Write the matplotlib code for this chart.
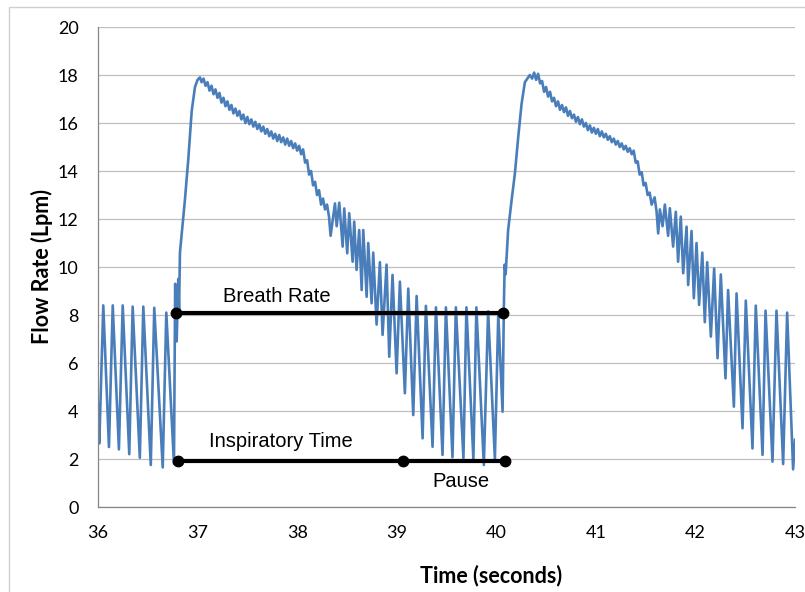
import matplotlib.pyplot as plt
from matplotlib.patches import Rectangle
import numpy as np

# resting oscillation before the first breath
rest1_t = [36.000, 36.013, 36.053, 36.110, 36.148, 36.210, 36.248, 36.314, 36.348,
           36.420, 36.455, 36.530, 36.565, 36.650, 36.686, 36.763]
rest1_flow = [4.3, 2.65, 8.4, 2.5, 8.4, 2.4, 8.4, 2.2, 8.35,
              2.05, 8.35, 1.75, 8.3, 1.65, 8.1, 1.8]

# first breath: rise
rise1_t = [36.775, 36.790, 36.806, 36.814, 36.823, 36.873, 36.907, 36.941, 36.974, 37.000, 37.024]
rise1_flow = [9.3, 6.9, 9.5, 8.2, 10.6, 12.8, 14.5, 16.5, 17.5, 17.8, 17.9]

# first breath: noisy decay
decay1_t = [37.04, 37.06, 37.08, 37.10, 37.12, 37.14, 37.16, 37.18, 37.20, 37.22,
            37.24, 37.26, 37.28, 37.30, 37.32, 37.34, 37.36, 37.38, 37.40, 37.42,
            37.44, 37.46, 37.48, 37.50, 37.52, 37.54, 37.56, 37.58, 37.60, 37.62,
            37.64, 37.66, 37.68, 37.70, 37.72, 37.74, 37.76, 37.78, 37.80, 37.82,
            37.84, 37.86, 37.88, 37.90, 37.92, 37.94, 37.96, 37.98, 38.00, 38.02,
            38.04, 38.06, 38.08, 38.10, 38.12, 38.14, 38.16, 38.18, 38.20, 38.22,
            38.24, 38.26]
decay1_flow = [17.7, 17.85, 17.55, 17.7, 17.35, 17.55, 17.2, 17.4, 17.05, 17.25,
               16.85, 17.05, 16.7, 16.9, 16.55, 16.75, 16.4, 16.6, 16.3, 16.5,
               16.15, 16.35, 16.0, 16.25, 15.95, 16.15, 15.85, 16.05, 15.75, 15.95,
               15.65, 15.85, 15.55, 15.75, 15.45, 15.65, 15.35, 15.55, 15.25, 15.5,
               15.2, 15.4, 15.1, 15.35, 15.05, 15.25, 14.95, 15.15, 14.85, 15.05,
               14.7, 14.9, 14.35, 14.45, 13.85, 14.0, 13.4, 13.55, 13.0, 13.2,
               12.6, 12.85]

# first breath: oscillating tail and pause
osc1_t = [38.28, 38.30, 38.32, 38.336, 38.380, 38.397, 38.423, 38.457, 38.473, 38.503,
          38.523, 38.557, 38.573, 38.597, 38.623, 38.648, 38.664, 38.698, 38.714, 38.748,
          38.764, 38.798, 38.831, 38.858, 38.898, 38.925, 38.958, 38.999, 39.032, 39.082,
          39.116, 39.166, 39.200, 39.260, 39.293, 39.360, 39.394, 39.460, 39.494, 39.560,
          39.594, 39.670, 39.700, 39.770, 39.800, 39.875, 39.918, 39.986, 40.020, 40.063]
osc1_flow = [12.4, 12.6, 12.1, 11.3, 12.65, 11.7, 12.68, 10.85, 12.44, 10.57,
             12.24, 10.22, 11.89, 9.88, 11.54, 9.04, 11.54, 8.76, 11.0, 8.49,
             10.6, 7.6, 10.2, 7.17, 10.1, 6.26, 9.67, 5.57, 9.39, 4.74,
             9.1, 3.83, 8.79, 2.86, 8.38, 2.51, 8.32, 2.17, 8.32, 2.07,
             8.32, 2.03, 8.32, 1.99, 8.32, 1.75, 8.15, 2.0, 8.05, 3.97]

# second breath: rise
rise2_t = [40.076, 40.084, 40.094, 40.119, 40.154, 40.187, 40.220, 40.254, 40.287, 40.337]
rise2_flow = [8.3, 10.1, 9.7, 11.54, 12.79, 13.9, 15.4, 16.8, 17.7, 18.0]

# second breath: noisy decay
decay2_t = [40.36, 40.38, 40.40, 40.42, 40.44, 40.46, 40.48, 40.50, 40.52, 40.54,
            40.56, 40.58, 40.60, 40.62, 40.64, 40.66, 40.68, 40.70, 40.72, 40.74,
            40.76, 40.78, 40.80, 40.82, 40.84, 40.86, 40.88, 40.90, 40.92, 40.94,
            40.96, 40.98, 41.00, 41.02, 41.04, 41.06, 41.08, 41.10, 41.12, 41.14,
            41.16, 41.18, 41.20, 41.22, 41.24, 41.26, 41.28, 41.30, 41.32, 41.34,
            41.36, 41.38, 41.40, 41.42, 41.44, 41.46, 41.48, 41.50, 41.52, 41.54,
            41.56]
decay2_flow = [17.85, 18.1, 17.8, 18.05, 17.65, 17.75, 17.3, 17.5, 17.1, 17.3,
               16.9, 17.05, 16.7, 16.9, 16.55, 16.75, 16.45, 16.65, 16.3, 16.5,
               16.2, 16.35, 16.05, 16.25, 15.95, 16.15, 15.85, 16.0, 15.7, 15.9,
               15.6, 15.8, 15.55, 15.75, 15.45, 15.65, 15.4, 15.55, 15.3, 15.45,
               15.2, 15.35, 15.1, 15.25, 15.0, 15.15, 14.9, 15.05, 14.8, 14.95,
               14.7, 14.85, 14.35, 14.4, 13.85, 13.95, 13.4, 13.5, 13.0, 13.1,
               12.6]

# second breath: oscillating tail
osc2_t = [41.59, 41.61, 41.626, 41.643, 41.670, 41.693, 41.726, 41.743, 41.776, 41.803,
          41.826, 41.853, 41.877, 41.911, 41.927, 41.961, 41.984, 42.011, 42.037, 42.069,
          42.094, 42.118, 42.155, 42.188, 42.222, 42.255, 42.302, 42.328, 42.386, 42.413,
          42.473, 42.506, 42.573, 42.606, 42.674, 42.704, 42.774, 42.814, 42.881, 42.921,
          42.981, 43.0]
osc2_flow = [12.9, 12.3, 11.4, 12.4, 11.7, 12.6, 11.3, 12.45, 10.85, 12.3,
             10.22, 12.1, 9.74, 11.68, 9.25, 11.5, 8.7, 11.0, 8.42, 10.6,
             7.7, 10.2, 7.1, 9.94, 6.2, 9.69, 5.36, 9.04, 4.18, 8.9,
             3.28, 8.6, 2.44, 8.39, 2.17, 8.18, 1.89, 8.18, 1.79, 8.1,
             1.57, 2.8]

# annotation markers
breath_rate_t = [36.783, 40.063]
breath_rate_flow = 8.1
insp_t = [36.806, 39.062, 40.086]
insp_flow = 1.92

time = np.concatenate([rest1_t, rise1_t, decay1_t, osc1_t, rise2_t, decay2_t, osc2_t])
flow = np.concatenate([rest1_flow, rise1_flow, decay1_flow, osc1_flow, rise2_flow, decay2_flow, osc2_flow])

fig = plt.figure(figsize=(8.05, 5.92), dpi=100)
ax = fig.add_axes([98 / 805, 1 - 507 / 592, 697 / 805, 480 / 592])

ax.plot(time, flow, color="#4A7EBB", linewidth=1.9, zorder=2)

ax.plot(breath_rate_t, [breath_rate_flow] * 2, color="black", linewidth=3, marker="o",
        markersize=7.5, zorder=3)
ax.plot(insp_t, [insp_flow] * 3, color="black", linewidth=3, marker="o",
        markersize=7.5, zorder=3)

ax.text(37.80, 8.75, "Breath Rate", fontsize=14.5, family="Liberation Sans",
        ha="center", va="center")
ax.text(37.84, 2.72, "Inspiratory Time", fontsize=14.5, family="Liberation Sans",
        ha="center", va="center")
ax.text(39.64, 1.08, "Pause", fontsize=14.5, family="Liberation Sans",
        ha="center", va="center")

ax.set_xlim(36, 43)
ax.set_ylim(0, 20)
ax.set_xticks(range(36, 44))
ax.set_yticks(range(0, 21, 2))
ax.grid(axis="y", color="#BFBFBF", linewidth=0.9)
ax.set_axisbelow(True)

for side in ["top", "right"]:
    ax.spines[side].set_visible(False)
for side in ["left", "bottom"]:
    ax.spines[side].set_color("#868686")
    ax.spines[side].set_linewidth(0.9)

ax.tick_params(axis="both", length=0, labelsize=13)
ax.tick_params(axis="y", pad=14)
ax.tick_params(axis="x", pad=13)
for label in ax.get_xticklabels() + ax.get_yticklabels():
    label.set_family("Lato")

ax.set_xlabel("Time (seconds)", fontsize=15.5, fontweight="bold", family="Lato")
ax.set_ylabel("Flow Rate (Lpm)", fontsize=15.5, fontweight="bold", family="Lato")
ax.xaxis.set_label_coords((491 - 98) / 697, -(565 - 507) / 480)
ax.yaxis.set_label_coords(-(98 - 53) / 697, 0.5)

fig.patches.append(Rectangle((9 / 805, -0.1), 1.2, 1.1 - 7 / 592, transform=fig.transFigure,
                             fill=False, edgecolor="#D0D0D0", linewidth=1))

fig.savefig("out.png", dpi=100)
